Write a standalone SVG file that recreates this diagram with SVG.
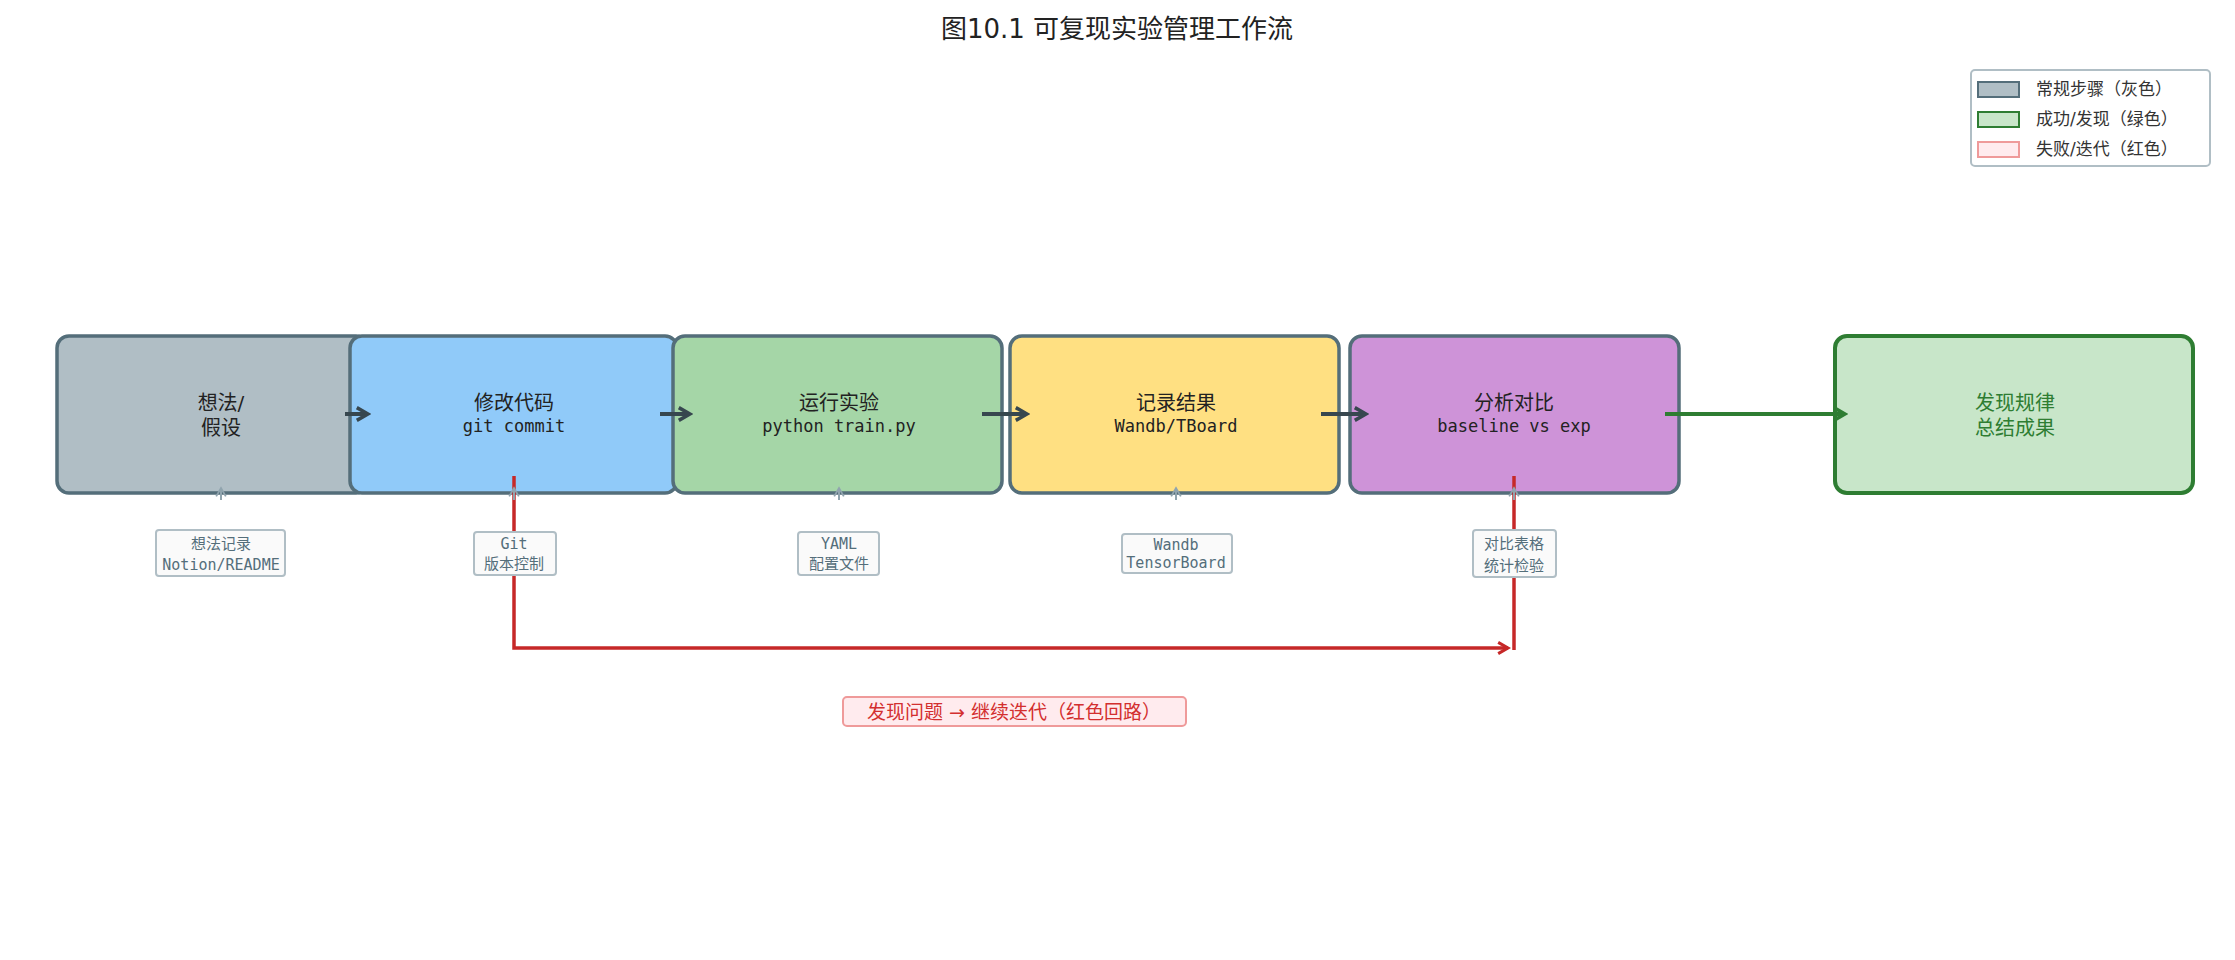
<svg xmlns="http://www.w3.org/2000/svg" width="2235" height="960" viewBox="0 0 2235 960">
<defs>
<style>
.t{font-family:"DejaVu Sans","Noto Sans CJK SC",sans-serif;fill:#222}
.m{font-family:"DejaVu Sans Mono","Noto Sans CJK SC",monospace;fill:#222}
.node{stroke:#546e7a;stroke-width:3.5}
.ann rect{fill:#fafafa;stroke:#b0bec5;stroke-width:2}
.ann text{font-family:"DejaVu Sans Mono","Noto Sans CJK SC",monospace;font-size:15px;fill:#546e7a;text-anchor:middle}
.up{stroke:#90a4ae;stroke-width:2;fill:none}
</style>
<marker id="ad" viewBox="0 0 10 10" refX="8" refY="5" markerWidth="4" markerHeight="4" orient="auto" markerUnits="strokeWidth"><path d="M1,1 L8,5 L1,9" fill="none" stroke="#37474f" stroke-width="2.2"/></marker>
<marker id="ag" viewBox="0 0 10 10" refX="8" refY="5" markerWidth="4" markerHeight="4" orient="auto" markerUnits="strokeWidth"><path d="M1,1 L8,5 L1,9" fill="none" stroke="#2e7d32" stroke-width="2.2"/></marker>
<marker id="ar" viewBox="0 0 10 10" refX="8" refY="5" markerWidth="4" markerHeight="4" orient="auto" markerUnits="strokeWidth"><path d="M1,1 L8,5 L1,9" fill="none" stroke="#c62828" stroke-width="2.2"/></marker>
<marker id="au" viewBox="0 0 10 10" refX="8" refY="5" markerWidth="6" markerHeight="6" orient="auto" markerUnits="strokeWidth"><path d="M1,1 L8,5 L1,9" fill="none" stroke="#90a4ae" stroke-width="1.5"/></marker>
</defs>
<rect width="2235" height="960" fill="#fff"/>
<text class="t" x="1117" y="38" font-size="26" text-anchor="middle">图10.1  可复现实验管理工作流</text>

<g id="n1"><rect class="node" x="57" y="336" width="311" height="157" rx="12" fill="#b0bec5"/>
<text class="t" x="221" y="410" font-size="20" text-anchor="middle">想法/</text><text class="t" x="221" y="435" font-size="20" text-anchor="middle">假设</text></g>
<g id="n2"><rect class="node" x="350" y="336" width="327" height="157" rx="12" fill="#90caf9"/>
<text class="t" x="514" y="410" font-size="20" text-anchor="middle">修改代码</text><text class="m" x="514" y="432" font-size="17" text-anchor="middle">git commit</text></g>
<g id="n3"><rect class="node" x="673" y="336" width="329" height="157" rx="12" fill="#a5d6a7"/>
<text class="t" x="839" y="410" font-size="20" text-anchor="middle">运行实验</text><text class="m" x="839" y="432" font-size="17" text-anchor="middle">python train.py</text></g>
<g id="n4"><rect class="node" x="1010" y="336" width="329" height="157" rx="12" fill="#ffe082"/>
<text class="t" x="1176" y="410" font-size="20" text-anchor="middle">记录结果</text><text class="m" x="1176" y="432" font-size="17" text-anchor="middle">Wandb/TBoard</text></g>
<g id="n5"><rect class="node" x="1350" y="336" width="329" height="157" rx="12" fill="#ce93d8"/>
<text class="t" x="1514" y="410" font-size="20" text-anchor="middle">分析对比</text><text class="m" x="1514" y="432" font-size="17" text-anchor="middle">baseline vs exp</text></g>
<g id="n6"><rect x="1835" y="336" width="358" height="157" rx="12" fill="#c8e6c9" stroke="#2e7d32" stroke-width="4"/>
<text class="t" x="2015" y="410" font-size="20" text-anchor="middle" style="fill:#2e7d32">发现规律</text><text class="t" x="2015" y="435" font-size="20" text-anchor="middle" style="fill:#2e7d32">总结成果</text></g>

<g id="connectors">
<line x1="345" y1="414" x2="368" y2="414" stroke="#37474f" stroke-width="4" marker-end="url(#ad)"/>
<line x1="660" y1="414" x2="690" y2="414" stroke="#37474f" stroke-width="4" marker-end="url(#ad)"/>
<line x1="982" y1="414" x2="1027" y2="414" stroke="#37474f" stroke-width="4" marker-end="url(#ad)"/>
<line x1="1321" y1="414" x2="1366" y2="414" stroke="#37474f" stroke-width="4" marker-end="url(#ad)"/>
<line x1="1665" y1="414" x2="1845" y2="414" stroke="#2e7d32" stroke-width="4" marker-end="url(#ag)"/>
<polyline points="514,476 514,648 1508,648" fill="none" stroke="#c62828" stroke-width="3.5" marker-end="url(#ar)"/>
<line x1="1514" y1="476" x2="1514" y2="650" stroke="#c62828" stroke-width="3.5"/>
<line class="up" x1="221" y1="500" x2="221" y2="488" marker-end="url(#au)"/>
<line class="up" x1="514" y1="500" x2="514" y2="488" marker-end="url(#au)"/>
<line class="up" x1="839" y1="500" x2="839" y2="488" marker-end="url(#au)"/>
<line class="up" x1="1176" y1="500" x2="1176" y2="488" marker-end="url(#au)"/>
<line class="up" x1="1514" y1="500" x2="1514" y2="488" marker-end="url(#au)"/>
</g>

<g id="a1" class="ann"><rect x="156" y="530" width="129" height="46" rx="3"/><text x="221" y="549">想法记录</text><text x="221" y="570">Notion/README</text></g>
<g id="a2" class="ann"><rect x="474" y="532" width="82" height="43" rx="3"/><text x="514" y="549">Git</text><text x="514" y="569">版本控制</text></g>
<g id="a3" class="ann"><rect x="798" y="532" width="81" height="43" rx="3"/><text x="839" y="549">YAML</text><text x="839" y="569">配置文件</text></g>
<g id="a4" class="ann"><rect x="1122" y="534" width="110" height="39" rx="3"/><text x="1176" y="550">Wandb</text><text x="1176" y="568">TensorBoard</text></g>
<g id="a5" class="ann"><rect x="1473" y="530" width="83" height="47" rx="3"/><text x="1514" y="549">对比表格</text><text x="1514" y="571">统计检验</text></g>

<g id="loop-label"><rect x="843" y="697" width="343" height="29" rx="4" fill="#ffebee" stroke="#ef9a9a" stroke-width="2"/>
<text class="t" x="1014" y="719" font-size="19" text-anchor="middle" style="fill:#d32f2f">发现问题 → 继续迭代（红色回路）</text></g>

<g id="legend"><rect x="1971" y="70" width="239" height="96" rx="4" fill="#fff" stroke="#b0bec5" stroke-width="2"/>
<rect x="1978" y="82" width="41" height="15" fill="#b0bec5" stroke="#546e7a" stroke-width="2"/>
<rect x="1978" y="112" width="41" height="15" fill="#c8e6c9" stroke="#2e7d32" stroke-width="2"/>
<rect x="1978" y="142" width="41" height="15" fill="#ffebee" stroke="#ef9a9a" stroke-width="2"/>
<text class="t" x="2036" y="95" font-size="17" style="fill:#333">常规步骤（灰色）</text>
<text class="t" x="2036" y="125" font-size="17" style="fill:#333">成功/发现（绿色）</text>
<text class="t" x="2036" y="155" font-size="17" style="fill:#333">失败/迭代（红色）</text></g>
</svg>
